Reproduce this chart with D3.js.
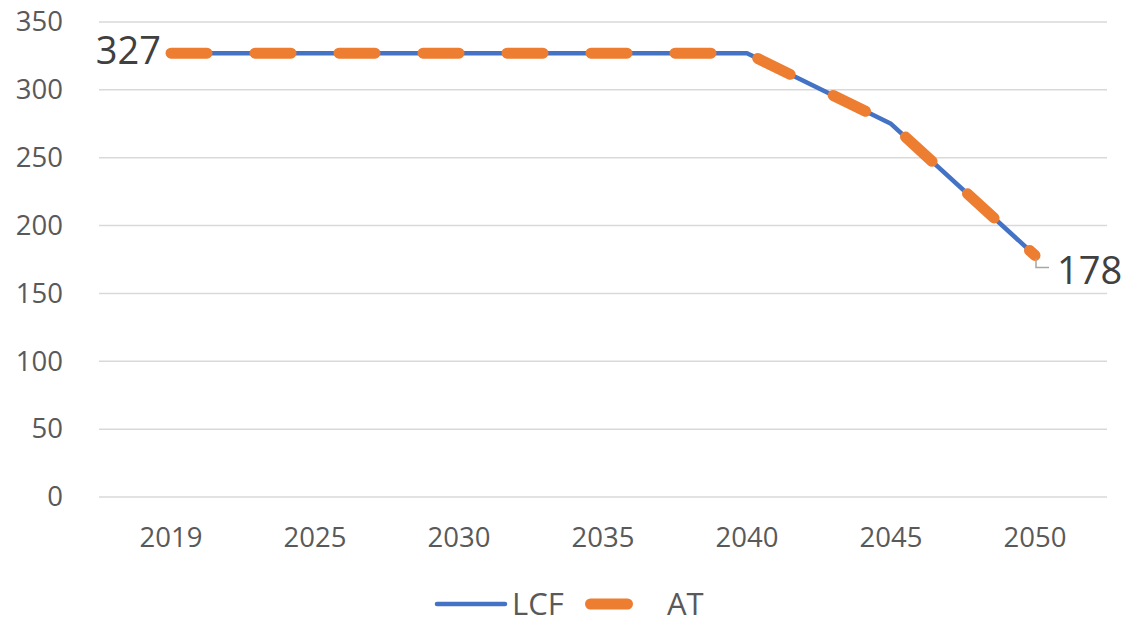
<!DOCTYPE html>
<html>
<head>
<meta charset="utf-8">
<script src="https://cdn.jsdelivr.net/npm/d3@7"></script>
<style>
  body { margin: 0; background: #fff; }
  text { font-family: "Open Sans", sans-serif; }
</style>
</head>
<body>
<div id="chart"></div>
<script>
// data
var years = ["2019", "2025", "2030", "2035", "2040", "2045", "2050"];
var lcf = [327, 327, 327, 327, 327, 275, 178];
var at = [327, 327, 327, 327, 327, 275, 178];
var yTicks = [0, 50, 100, 150, 200, 250, 300, 350];
var seriesNames = ["LCF", "AT"];

var W = 1124, H = 619;
var margin = {top: 22, right: 17, bottom: 122, left: 99};

var svg = d3.select("#chart")
    .append("svg")
    .attr("width", W)
    .attr("height", H);

var x = d3.scaleBand()
    .domain(years)
    .range([margin.left, W - margin.right]);

var y = d3.scaleLinear()
    .domain([0, 350])
    .range([H - margin.bottom, margin.top]);

// gridlines
svg.append("g")
    .selectAll("line")
    .data(yTicks)
    .enter()
    .append("line")
    .attr("x1", margin.left)
    .attr("x2", W - margin.right)
    .attr("y1", function(d) { return y(d); })
    .attr("y2", function(d) { return y(d); })
    .attr("stroke", "#d9d9d9")
    .attr("stroke-width", 1.5);

// y axis labels
var yAxis = d3.axisLeft(y).tickValues(yTicks).tickSize(0).tickPadding(0);
var gy = svg.append("g")
    .attr("transform", "translate(" + (margin.left - 36) + ",0)")
    .call(yAxis);
gy.select(".domain").remove();
gy.selectAll("text")
    .style("font-family", "Open Sans")
    .style("font-size", "27.5px")
    .attr("fill", "#595959");

// x axis labels
var xAxis = d3.axisBottom(x).tickSize(0).tickPadding(0);
var gx = svg.append("g")
    .attr("transform", "translate(0," + (y(0) + 30) + ")")
    .call(xAxis);
gx.select(".domain").remove();
gx.selectAll("text")
    .style("font-family", "Open Sans")
    .style("font-size", "27.5px")
    .attr("fill", "#595959");

var line = d3.line()
    .x(function(d, i) { return x(years[i]) + x.bandwidth() / 2; })
    .y(function(d) { return y(d); });

svg.append("path")
    .datum(lcf)
    .attr("fill", "none")
    .attr("stroke", "#4472c4")
    .attr("stroke-width", 4.5)
    .attr("stroke-linejoin", "round")
    .attr("stroke-linecap", "round")
    .attr("d", line);

svg.append("path")
    .datum(at)
    .attr("fill", "none")
    .attr("stroke", "#ed7d31")
    .attr("stroke-width", 11)
    .attr("stroke-linejoin", "round")
    .attr("stroke-linecap", "round")
    .attr("stroke-dasharray", "36,48")
    .attr("d", line);

// data labels on first and last point
var firstX = x(years[0]) + x.bandwidth() / 2;
var lastI = years.length - 1;
var lastX = x(years[lastI]) + x.bandwidth() / 2;

svg.append("text")
    .attr("x", firstX - 10)
    .attr("y", y(at[0]) + 11)
    .attr("text-anchor", "end")
    .style("font-size", "38px")
    .attr("fill", "#404040")
    .text(at[0]);

svg.append("path")
    .attr("d", "M" + (lastX + 1) + "," + (y(at[lastI]) + 3) +
        "V" + (y(at[lastI]) + 12) + "H" + (lastX + 14))
    .attr("fill", "none")
    .attr("stroke", "#a6a6a6")
    .attr("stroke-width", 1.5);

svg.append("text")
    .attr("x", lastX + 22)
    .attr("y", y(at[lastI]) + 29)
    .attr("text-anchor", "start")
    .style("font-size", "38px")
    .attr("fill", "#404040")
    .text(at[lastI]);

// legend
var legend = svg.append("g");
var lg0 = legend.append("g").attr("transform", "translate(435,604)");
lg0.append("line")
    .attr("x1", 2).attr("x2", 70)
    .attr("stroke", "#4472c4")
    .attr("stroke-width", 4.5)
    .attr("stroke-linecap", "round");
lg0.append("text")
    .attr("x", 77)
    .attr("y", 11)
    .style("font-size", "31px")
    .attr("fill", "#595959")
    .text(seriesNames[0]);

var lg1 = legend.append("g").attr("transform", "translate(585,604)");
lg1.append("line")
    .attr("x1", 5.5).attr("x2", 72)
    .attr("stroke", "#ed7d31")
    .attr("stroke-width", 11)
    .attr("stroke-linecap", "round")
    .attr("stroke-dasharray", "37,48");
lg1.append("text")
    .attr("x", 82)
    .attr("y", 11)
    .style("font-size", "31px")
    .attr("fill", "#595959")
    .text(seriesNames[1]);
</script>
</body>
</html>
